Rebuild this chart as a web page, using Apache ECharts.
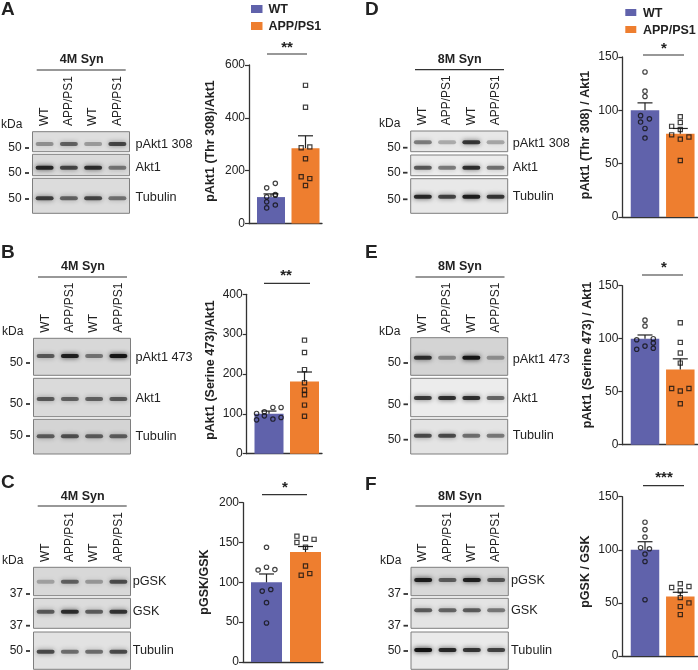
<!DOCTYPE html>
<html><head><meta charset="utf-8">
<style>html,body{margin:0;padding:0;background:#fff}#c{width:698px;height:670px}</style>
<script src="https://cdn.jsdelivr.net/npm/echarts@6/dist/echarts.min.js"></script>
</head><body><div id="c"></div>
<script>
// ---------- data ----------
const groups = ['WT', 'APP/PS1'];
const laneLabels = ['WT', 'APP/PS1', 'WT', 'APP/PS1'];

const meansA = [100, 285]; const tipsA = [112, 332];
const ptsWtA = [[-.125,135],[.125,152],[.125,110],[.125,107],[-.125,101],[-.125,82],[.125,70],[-.125,59]];
const ptsAppA = [[0,523],[0,440],[-.125,287],[.125,290],[0,245],[-.125,177],[.125,170],[0,144]];

const meansB = [100, 181]; const tipsB = [107, 205];
const ptsWtB = [[-.35,101],[-.35,85],[-.13,105],[-.13,95],[.11,116],[.11,87],[.34,116],[.34,91]];
const ptsAppB = [[0,285],[0,254],[0,211],[0,178],[0,160],[0,148],[0,122],[0,94]];

const meansC = [100, 138]; const tipsC = [110.5, 145];
const ptsWtC = [[0,144],[-.215,115.5],[0,119],[.215,116],[-.11,89],[.11,91],[0,74.5],[0,49]];
const ptsAppC = [[-.22,158],[-.22,150],[0,155],[.22,154],[0,144],[0,120.5],[-.11,109],[.11,111]];

const meansD = [100, 78]; const tipsD = [107, 83];
const ptsWtD = [[0,136],[0,118],[0,113],[-.125,95],[.125,92],[-.125,89],[0,83],[0,74]];
const ptsAppD = [[0,94],[-.245,85],[0,88.5],[0,82],[-.245,77],[.245,75],[0,73],[0,53]];

const meansE = [100, 71]; const tipsE = [103.5, 81];
const ptsWtE = [[0,117.5],[0,112],[-.235,99],[.235,100],[0,93],[.235,96],[-.235,90],[.235,91]];
const ptsAppE = [[0,115],[0,96.5],[0,86.5],[0,77],[-.245,53],[.245,53],[0,50.6],[0,38.7]];

const meansF = [100, 56]; const tipsF = [107.6, 60];
const ptsWtF = [[0,126],[0,119],[0,112],[-.125,102],[.125,101],[0,96],[0,89],[0,53]];
const ptsAppF = [[0,68],[-.245,64.5],[.245,65.5],[0,61.5],[0,55],[.245,50],[0,46.5],[0,39]];

// band darkness per lane, one row per blot strip
const bandsA = [[.34,.55,.3,.68],[.85,.68,.8,.46],[.72,.54,.68,.48]];
const bandsB = [[.58,.88,.46,.94],[.58,.54,.54,.58],[.56,.62,.56,.56]];
const bandsC = [[.26,.54,.3,.64],[.58,.8,.56,.76],[.66,.5,.5,.66]];
const bandsD = [[.45,.26,.76,.28],[.6,.46,.8,.5],[.84,.7,.9,.76]];
const bandsE = [[.8,.36,.94,.33],[.74,.8,.8,.54],[.66,.66,.5,.46]];
const bandsF = [[.9,.56,.88,.6],[.58,.54,.58,.46],[.96,.84,.76,.7]];

// ---------- layout ----------
const FONT = '"Liberation Sans", Arial, sans-serif';
const INK = '#222';
const WT_COLOR = '#6062ab', APP_COLOR = '#ee7e2f';

const panels = [
 {letter:'A',lx:1,ly:10,means:meansA,tips:tipsA,wt:ptsWtA,app:ptsAppA,max:600,step:200,
  ax:{l:249,r:322,t:65,b:223.5,c1:271,c2:305.5,bw:28},ylabel:'pAkt1 (Thr 308)/Akt1',yx:211,yy:141,
  sig:{x1:267,x2:307,y:54,ty:48,tx:287,s:'**'},
  head:{t:'4M Syn',cx:81.7,y:60,x1:36.7,x2:125.7,ly:70},kda:{x:1,y:125},
  blot:{l:32.5,r:129.5,lab:126,bands:bandsA,bg:['#dedede','#dadada','#dcdcdc'],
   rows:[[131.7,151.7,144],[154.3,175.7,167.7],[178.3,213.3,198.3]],
   names:['pAkt1 308','Akt1','Tubulin'],nx:135.5,ny:[144.7,167,197.7],
   mk:['50','50','50'],my:[148,173,199],mkR:21.7,tk:[25,29]}},
 {letter:'B',lx:1,ly:253,means:meansB,tips:tipsB,wt:ptsWtB,app:ptsAppB,max:400,step:100,
  ax:{l:246.7,r:322,t:294.3,b:453.7,c1:269,c2:304.5,bw:29},ylabel:'pAkt1 (Serine 473)/Akt1',yx:211,yy:370,
  sig:{x1:264,x2:310,y:283.3,ty:276,tx:286,s:'**'},
  head:{t:'4M Syn',cx:83,y:267,x1:38,x2:127,ly:277},kda:{x:2,y:331.7},
  blot:{l:33.5,r:130.5,lab:332.7,bands:bandsB,bg:['#d8d8d8','#dadada','#d4d4d4'],
   rows:[[338.3,375.3,356],[378.3,416.7,399],[419.3,454,436.3]],
   names:['pAkt1 473','Akt1','Tubulin'],nx:135.5,ny:[357,398,436],
   mk:['50','50','50'],my:[363,404,436],mkR:23,tk:[26,30]}},
 {letter:'C',lx:1,ly:483,means:meansC,tips:tipsC,wt:ptsWtC,app:ptsAppC,max:200,step:50,
  ax:{l:243,r:323,t:502.7,b:662,c1:266.5,c2:305.5,bw:31},ylabel:'pGSK/GSK',yx:205,yy:582,
  sig:{x1:262,x2:307,y:494.7,ty:488,tx:285,s:'*'},
  head:{t:'4M Syn',cx:82.7,y:496.7,x1:37.7,x2:126.7,ly:506},kda:{x:2,y:561},
  blot:{l:33.5,r:130.5,lab:562,bands:bandsC,bg:['#d8d8d8','#dcdcdc','#e2e2e2'],
   rows:[[567.3,595.7,581.7],[598.3,628.3,611.7],[632,669.3,651.7]],
   names:['pGSK','GSK','Tubulin'],nx:132.7,ny:[581,611,650],
   mk:['37','37','50'],my:[594,625.7,651],mkR:23,tk:[26,30]}},
 {letter:'D',lx:365,ly:10,means:meansD,tips:tipsD,wt:ptsWtD,app:ptsAppD,max:150,step:50,
  ax:{l:622.3,r:697.5,t:57,b:217,c1:645,c2:680.3,bw:28.5},ylabel:'pAkt1 (Thr 308) / Akt1',yx:586,yy:135,
  sig:{x1:643,x2:684,y:55,ty:49,tx:664,s:'*'},
  head:{t:'8M Syn',cx:459.7,y:60,x1:415,x2:504,ly:69.7},kda:{x:379,y:124},
  blot:{l:410.7,r:507.7,lab:125.3,bands:bandsD,bg:['#e8e8e8','#ececec','#e8e8e8'],
   rows:[[131,151.7,142.3],[155,175.7,167.7],[178.7,213.3,196.7]],
   names:['pAkt1 308','Akt1','Tubulin'],nx:512.7,ny:[143.3,167.3,196.3],
   mk:['50','50','50'],my:[147.7,172.7,199.3],mkR:400.7,tk:[403,407.5]}},
 {letter:'E',lx:365,ly:253,means:meansE,tips:tipsE,wt:ptsWtE,app:ptsAppE,max:150,step:50,
  ax:{l:622.3,r:697.5,t:285.7,b:444.7,c1:645,c2:680.3,bw:28.5},ylabel:'pAkt1 (Serine 473) / Akt1',yx:588,yy:355,
  sig:{x1:642,x2:683,y:275,ty:268,tx:664,s:'*'},
  head:{t:'8M Syn',cx:460,y:267,x1:415.5,x2:504.5,ly:277},kda:{x:379,y:331.7},
  blot:{l:410.7,r:507.7,lab:332.7,bands:bandsE,bg:['#d4d4d4','#ececec','#e4e4e4'],
   rows:[[337.7,375.3,357.7],[378.3,416.7,398],[419.3,454,435.7]],
   names:['pAkt1 473','Akt1','Tubulin'],nx:512.7,ny:[359.3,398,435.7],
   mk:['50','50','50'],my:[363,404.3,439.7],mkR:401,tk:[403.5,408]}},
 {letter:'F',lx:365,ly:485,means:meansF,tips:tipsF,wt:ptsWtF,app:ptsAppF,max:150,step:50,
  ax:{l:622.3,r:697.5,t:496.7,b:656,c1:645,c2:680.3,bw:28.5},ylabel:'pGSK / GSK',yx:586,yy:571.7,
  sig:{x1:643,x2:684,y:485.7,ty:478,tx:664,s:'***'},
  head:{t:'8M Syn',cx:460,y:496.7,x1:415.5,x2:504.5,ly:506},kda:{x:380,y:561},
  blot:{l:411,r:508.3,lab:562,bands:bandsF,bg:['#d8d8d8','#e4e4e4','#eaeaea'],
   rows:[[567.3,595.7,580],[598.3,628.3,610.3],[632,669.3,650]],
   names:['pGSK','GSK','Tubulin'],nx:511,ny:[580.7,610.7,650],
   mk:['37','37','50'],my:[594,625.7,651],mkR:401,tk:[403.5,408]}}
];
const legends = [
 {rx:251,rw:11.5,tx:268.5,y1:9,y2:26,rh:8},
 {rx:625.3,rw:11,tx:643,y1:12.5,y2:29.5,rh:7}
];

// ---------- build ----------
const grid=[],xAxis=[],yAxis=[],series=[],graphic=[];
const txt=(x,y,text,o={})=>graphic.push({type:'text',x,y,rotation:o.rot||0,silent:true,
  style:{text,fill:INK,font:(o.w||'normal')+' '+(o.s||12)+'px '+FONT,align:o.a||'left',verticalAlign:'middle'}});
const seg=(x1,y1,x2,y2,w)=>graphic.push({type:'line',silent:true,shape:{x1,y1,x2,y2},style:{stroke:'#333',lineWidth:w||1.2}});

function errItem(params,api){
  const x=api.value(0),m=api.coord([x,api.value(1)]),t=api.coord([x,api.value(2)]);
  return {type:'group',children:[
    {type:'line',shape:{x1:m[0],y1:m[1],x2:t[0],y2:t[1]},style:{stroke:'#222',lineWidth:1.2}},
    {type:'line',shape:{x1:t[0]-7.5,y1:t[1],x2:t[0]+7.5,y2:t[1]},style:{stroke:'#222',lineWidth:1.2}}]};
}
function bandItem(params,api){
  const c=api.coord([api.value(0),api.value(1)]),d=api.value(2),w=api.size([1,0])[0]*.74;
  const col='rgba(15,15,15,'+d+')';
  return {type:'rect',shape:{x:c[0]-w/2,y:c[1]-2,width:w,height:4,r:2},
    style:{fill:col,shadowBlur:5,shadowColor:col}};
}

panels.forEach(p=>{
  const a=p.ax, sp=a.c2-a.c1;
  const gi=grid.length;
  grid.push({left:a.l,top:a.t,width:a.r-a.l,height:a.b-a.t});
  xAxis.push({type:'value',gridIndex:gi,min:1-(a.c1-a.l)/sp,max:2+(a.r-a.c2)/sp,splitLine:{show:false},
    axisTick:{show:false},axisLabel:{show:false},axisLine:{show:true,onZero:false,lineStyle:{color:'#333',width:1.3}}});
  yAxis.push({type:'value',gridIndex:gi,min:0,max:p.max,interval:p.step,splitLine:{show:false},
    axisLine:{show:true,lineStyle:{color:'#333',width:1.3}},axisTick:{show:true,length:4,lineStyle:{color:'#333',width:1.2}},
    axisLabel:{margin:4,color:INK,fontSize:12,fontFamily:FONT}});
  series.push({type:'bar',xAxisIndex:gi,yAxisIndex:gi,barWidth:a.bw,silent:true,z:2,
    data:p.means.map((m,i)=>({value:[i+1,m],name:groups[i],itemStyle:{color:i?APP_COLOR:WT_COLOR}}))});
  [0,1].forEach(i=>{
    series.push({type:'custom',xAxisIndex:gi,yAxisIndex:gi,z:3,silent:true,renderItem:errItem,
      data:[[i+1,p.means[i],p.tips[i]]],encode:{x:0,y:[1,2]}});
    const pts=(i?p.app:p.wt).map(q=>[i+1+q[0],q[1]]);
    series.push({type:'scatter',xAxisIndex:gi,yAxisIndex:gi,z:4,silent:true,symbol:i?'rect':'circle',symbolSize:i?4.2:4.4,
      itemStyle:{color:'rgba(255,255,255,0)',borderColor:'#111',borderWidth:1.2},data:pts});
  });
  // blot strips
  const b=p.blot;
  b.rows.forEach((r,ri)=>{
    const g=grid.length;
    grid.push({left:b.l,width:b.r-b.l,top:r[0],height:r[1]-r[0],show:true,backgroundColor:b.bg[ri],borderColor:'#7e7e7e',borderWidth:1});
    xAxis.push({type:'category',gridIndex:g,position:'top',data:laneLabels,axisLine:{show:false},axisTick:{show:false},
      axisLabel:{show:ri===0,interval:0,rotate:90,margin:r[0]-b.lab,color:INK,fontSize:12,fontFamily:FONT}});
    yAxis.push({type:'value',gridIndex:g,min:0,max:1,inverse:true,show:false});
    const frac=(r[2]-r[0])/(r[1]-r[0]);
    series.push({type:'custom',xAxisIndex:g,yAxisIndex:g,silent:true,z:2,renderItem:bandItem,
      encode:{x:0,y:1},data:b.bands[ri].map((d,k)=>[k,frac,d])});
    txt(b.nx,b.ny[ri],b.names[ri],{s:12.7});
    txt(b.mkR,b.my[ri],b.mk[ri],{a:'right',s:12});
    seg(b.tk[0],b.my[ri],b.tk[1],b.my[ri],1.8);
  });
  txt(p.lx,p.ly,p.letter,{w:'bold',s:19});
  txt(p.kda.x,p.kda.y,'kDa',{s:12});
  txt(p.head.cx,p.head.y,p.head.t,{w:'bold',s:12.5,a:'center'});
  seg(p.head.x1,p.head.ly,p.head.x2,p.head.ly,1.2);
  txt(p.yx,p.yy,p.ylabel,{w:'bold',s:12.5,a:'center',rot:Math.PI/2});
  seg(p.sig.x1,p.sig.y,p.sig.x2,p.sig.y,1.2);
  txt(p.sig.tx,p.sig.ty,p.sig.s,{w:'bold',s:15,a:'center'});
});
legends.forEach(l=>{
  [[l.y1,WT_COLOR,groups[0]],[l.y2,APP_COLOR,groups[1]]].forEach(e=>{
    graphic.push({type:'rect',silent:true,shape:{x:l.rx,y:e[0]-l.rh/2,width:l.rw,height:l.rh},style:{fill:e[1]}});
    txt(l.tx,e[0]+1,e[2],{w:'bold',s:12.5});
  });
});
const chart=echarts.init(document.getElementById('c'),null,{renderer:'canvas'});
chart.setOption({animation:false,backgroundColor:'#fff',grid,xAxis,yAxis,series,graphic});
</script></body></html>
